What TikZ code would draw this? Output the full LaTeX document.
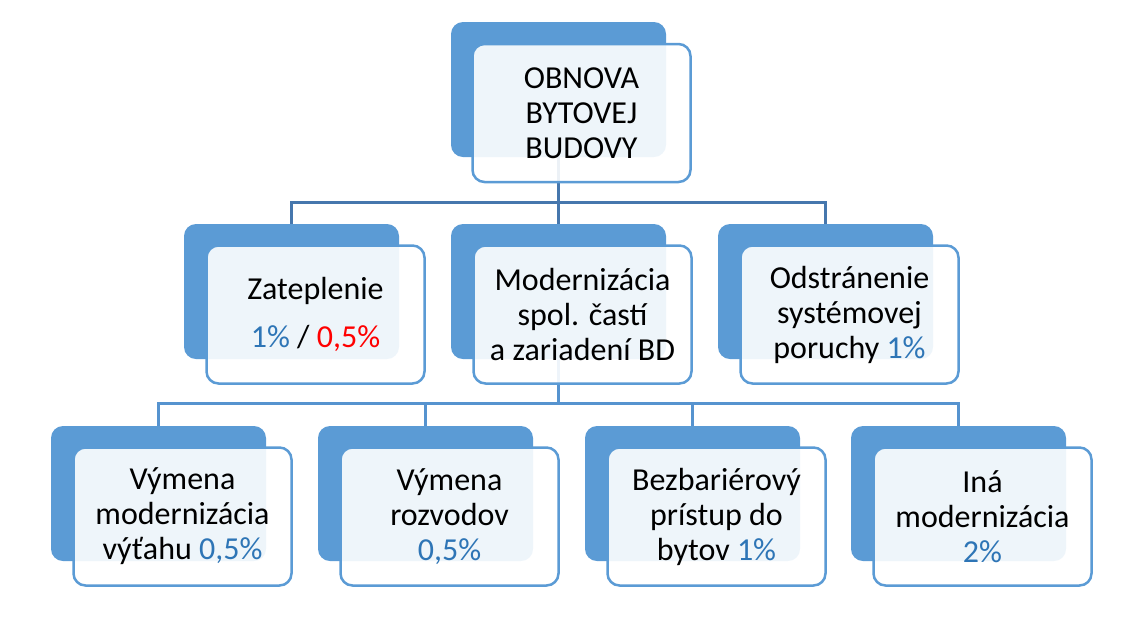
\documentclass[tikz,border=0pt]{standalone}
\usepackage{fontspec}
\newfontfamily\calfont{Carlito}
\definecolor{bk}{HTML}{5B9BD5}
\definecolor{cA}{HTML}{4677AD}
\definecolor{cB}{HTML}{5693CF}
\definecolor{pb}{HTML}{2E75B6}
\tikzset{
  backbox/.style={fill=bk, rounded corners=12pt, minimum width=215pt, minimum height=135pt, inner sep=0pt, outer sep=0pt},
  frontbox/.style={draw=bk, line width=2.5pt, fill=white, fill opacity=0.9, text opacity=1, rounded corners=12pt, minimum width=218pt, minimum height=138pt, inner sep=0pt, outer sep=0pt, align=center, font=\calfont\fontsize{32}{35}\selectfont},
  conA/.style={draw=cA, line width=3pt},
  conB/.style={draw=cB, line width=3pt},
}
\begin{document}
\begin{tikzpicture}[x=1pt,y=-1pt]
\useasboundingbox (0,0) rectangle (1143,641);
% back boxes
\node[backbox] (b0) at (558.5,89.5) {};
\node[backbox] (b1) at (291.5,291.5) {};
\node[backbox] (b2) at (558.5,291.5) {};
\node[backbox] (b3) at (825.5,291.5) {};
\node[backbox] (c1) at (158.5,493.5) {};
\node[backbox] (c2) at (425.5,493.5) {};
\node[backbox] (c3) at (692.5,493.5) {};
\node[backbox] (c4) at (958.5,493.5) {};
% connectors
\coordinate (h1) at (558.5,202.5);
\coordinate (h2) at (558.5,403.5);
\draw[conA] (b0.south) -- (h1);
\draw[conA] (h1) -| (b1.north);
\draw[conA] (h1) -| (b3.north);
\draw[conA] (h1) -- (b2.north);
\draw[conB] (b2.south) -- (h2);
\draw[conB] (h2) -| (c1.north);
\draw[conB] (h2) -| (c2.north);
\draw[conB] (h2) -| (c3.north);
\draw[conB] (h2) -| (c4.north);
% front boxes
\node[frontbox] (f0) at (581.5,113) {OBNOVA\\BYTOVEJ\\BUDOVY};
\node[frontbox] (f1) at (315.5,314.5) {Zateplenie\\[13pt]{\color{pb}1\%} / {\color{red}0,5\%}};
\node[frontbox] (f2) at (582.5,314.5) {Modernizácia\\spol. častí\\a zariadení BD};
\node[frontbox] (f3) at (849.5,314.5) {Odstránenie\\systémovej\\poruchy {\color{pb}1\%}};
\node[frontbox] (g1) at (182.5,516.5) {Výmena\\modernizácia\\výťahu {\color{pb}0,5\%}};
\node[frontbox] (g2) at (449.5,516.5) {Výmena\\rozvodov\\{\color{pb}0,5\%}};
\node[frontbox] (g3) at (716.5,516.5) {Bezbariérový\\prístup do\\bytov {\color{pb}1\%}};
\node[frontbox] (g4) at (982.5,516.5) {Iná\\modernizácia\\{\color{pb}2\%}};
\end{tikzpicture}
\end{document}
